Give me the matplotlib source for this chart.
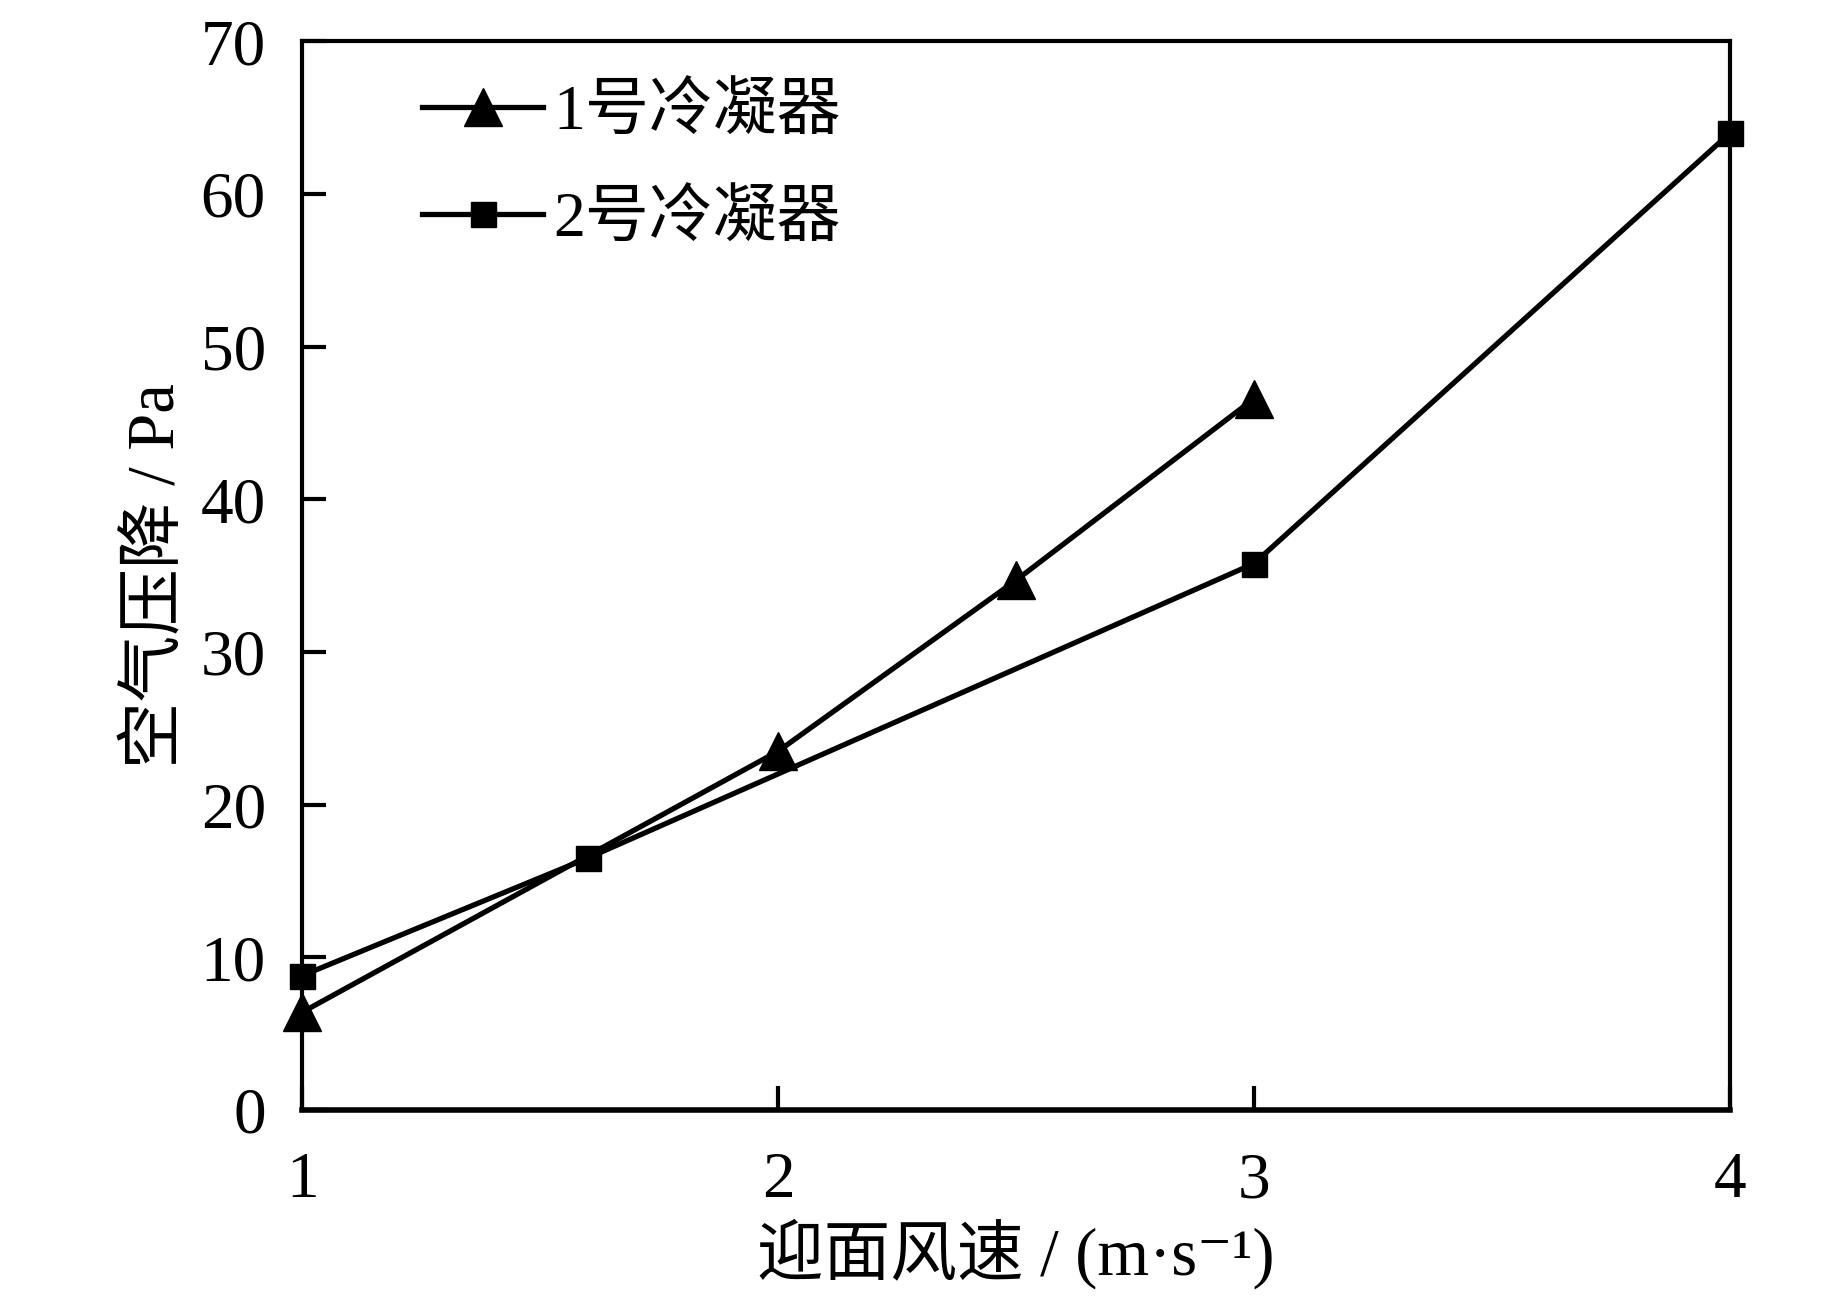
import matplotlib
matplotlib.use("Agg")
import matplotlib.pyplot as plt

plt.rcParams['font.family'] = ['Liberation Serif', 'Noto Sans CJK SC', 'DejaVu Serif']
plt.rcParams['axes.unicode_minus'] = False

# data
x1 = [1.0, 2.0, 2.5, 3.0]
y1 = [6.4, 23.5, 34.7, 46.6]
x2 = [1.0, 1.6, 3.0, 4.0]
y2 = [8.8, 16.5, 35.8, 64.0]
labels = ['1号冷凝器', '2号冷凝器']
xticks = [1, 2, 3, 4]
yticks = [0, 10, 20, 30, 40, 50, 60, 70]

fig = plt.figure(figsize=(18.43, 12.99), dpi=100)
ax = fig.add_axes([0.1639, 0.1455, 0.7748, 0.8226])

ax.plot(x1, y1, color='black', lw=3.8, marker='^', ms=28, label=labels[0])
ax.plot(x2, y2, color='black', lw=3.8, marker='s', ms=18, label=labels[1])

ax.set_xlim(1, 4)
ax.set_ylim(0, 70)
ax.set_xticks(xticks)
ax.set_yticks(yticks)
for s in ax.spines.values():
    s.set_linewidth(3)
    s.set_zorder(0.5)
ax.spines['bottom'].set_linewidth(4)

ax.tick_params(direction='in', length=17, width=3, labelsize=47)
ax.tick_params(axis='x', pad=30)
ax.tick_params(axis='y', pad=26)

ax.set_xlabel('迎面风速 / (m·s⁻¹)', fontsize=48, labelpad=5)
ax.set_ylabel('空气压降 / Pa', fontsize=48, labelpad=9)

ax.legend(loc='upper left', bbox_to_anchor=(0.229, 0.935), bbox_transform=fig.transFigure,
          frameon=False, fontsize=46, handlelength=1.9, handletextpad=0.15,
          labelspacing=0.75, borderpad=0, borderaxespad=0)

for m in ax.lines:
    m.set_clip_on(False)

fig.savefig('out.png', dpi=100)
